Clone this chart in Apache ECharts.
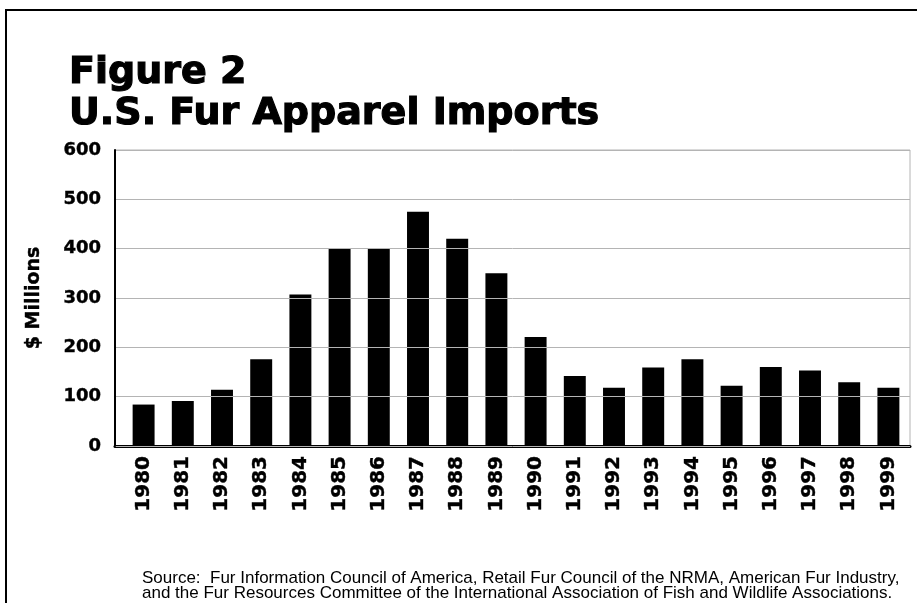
<!DOCTYPE html>
<html>
<head>
<meta charset="utf-8">
<script src="https://cdn.jsdelivr.net/npm/echarts@6/dist/echarts.min.js"></script>
<style>
  html, body { margin: 0; padding: 0; background: #fff; }
  #chart { width: 917px; height: 603px; }
</style>
</head>
<body>
<div id="chart"></div>
<script>
const years = ['1980','1981','1982','1983','1984','1985','1986','1987','1988','1989',
               '1990','1991','1992','1993','1994','1995','1996','1997','1998','1999'];
const imports = [84, 91, 114, 176, 307, 400, 400, 475, 420, 350,
                 221, 142, 118, 159, 176, 122, 160, 153, 129, 118];
const yTicks = [0, 100, 200, 300, 400, 500, 600];
const titleLines = ['Figure 2', 'U.S. Fur Apparel Imports'];
const yName = '$ Millions';
const sourceLines = [
  'Source:  Fur Information Council of America, Retail Fur Council of the NRMA, American Fur Industry,',
  'and the Fur Resources Committee of the International Association of Fish and Wildlife Associations.'
];

const chart = echarts.init(document.getElementById('chart'), null, { renderer: 'canvas' });
const boldFont = 'DejaVu Sans';
const yMin = yTicks[0], yMax = yTicks[yTicks.length - 1], yStep = yTicks[1] - yTicks[0];
chart.setOption({
  backgroundColor: '#fff',
  animation: false,
  title: [
    {
      text: titleLines.join('\n'),
      left: 64, top: 48,
      textStyle: { fontFamily: boldFont, fontWeight: 'bold', fontSize: 38, lineHeight: 41, color: '#000',
                   textBorderColor: '#000', textBorderWidth: 1.2 }
    },
    {
      text: sourceLines.join('\n'),
      left: 137, top: 566,
      textStyle: { fontFamily: 'Liberation Sans, Arial, sans-serif', fontWeight: 'normal',
                   fontSize: 17, lineHeight: 15, color: '#000' }
    }
  ],
  graphic: [
    { type: 'rect', shape: { x: 6, y: 10, width: 940, height: 640 },
      style: { fill: 'none', stroke: '#000', lineWidth: 2 }, silent: true }
  ],
  grid: [
    { left: 115, right: 7, top: 150, bottom: 157, show: true, borderColor: '#b4b4b4', borderWidth: 1 },
    { left: 124, right: 9, top: 150, bottom: 157 }
  ],
  xAxis: [
    {
      gridIndex: 0, type: 'category', data: years,
      axisLine: { show: true, lineStyle: { color: '#000', width: 3 } },
      axisTick: { show: false }, axisLabel: { show: false }, splitLine: { show: false }
    },
    {
      gridIndex: 1, type: 'category', data: years,
      axisLine: { show: false },
      axisTick: { show: false },
      axisLabel: { rotate: 90, margin: 10, color: '#000', fontFamily: boldFont, fontWeight: 'bold', fontSize: 20,
                   textBorderColor: '#000', textBorderWidth: 0.4 }
    }
  ],
  yAxis: [
    {
      gridIndex: 0, type: 'value',
      min: yMin, max: yMax, interval: yStep,
      name: yName, nameLocation: 'middle', nameRotate: 90, nameGap: 71,
      nameTextStyle: { fontFamily: boldFont, fontWeight: 'bold', fontSize: 19, color: '#000',
                       textBorderColor: '#000', textBorderWidth: 0.4 },
      axisLine: { show: true, lineStyle: { color: '#000', width: 2 } },
      axisTick: { show: false },
      splitLine: { show: true, lineStyle: { color: '#b4b4b4', width: 1 } },
      axisLabel: { margin: 14, color: '#000', fontFamily: boldFont, fontWeight: 'bold', fontSize: 18,
                   textBorderColor: '#000', textBorderWidth: 0.4 },
      z: 5
    },
    {
      gridIndex: 1, type: 'value',
      min: yMin, max: yMax, interval: yStep,
      show: false, splitLine: { show: false }
    }
  ],
  series: [{
    type: 'bar',
    xAxisIndex: 1, yAxisIndex: 1,
    data: imports,
    barWidth: '56%',
    itemStyle: { color: '#000' }
  }]
});
</script>
</body>
</html>
